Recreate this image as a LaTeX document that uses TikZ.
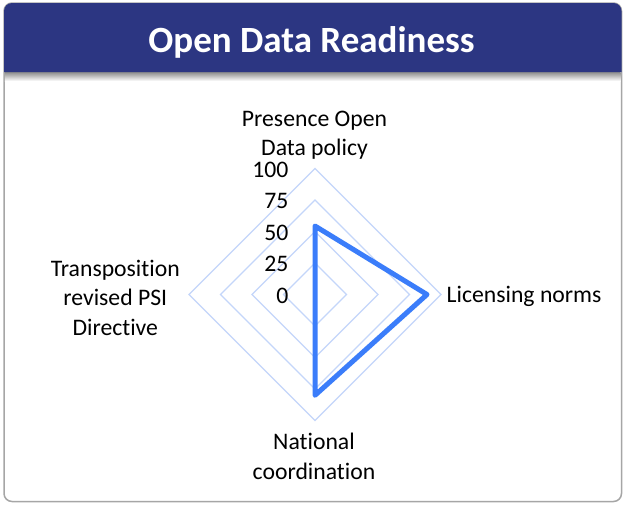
\documentclass[tikz,border=0pt]{standalone}
\usepackage{fontspec}
\setmainfont{Carlito}[Ligatures=NoCommon]
\usetikzlibrary{positioning}
\definecolor{titleblue}{RGB}{44,54,130}
\definecolor{datablue}{RGB}{59,125,250}
\definecolor{gridblue}{RGB}{196,214,250}
\definecolor{framegray}{RGB}{166,166,166}

\begin{document}
\begin{tikzpicture}[x=1pt,y=1pt,
    ring/.style={draw=gridblue,line width=1.2pt},
    series/.style={draw=datablue,line width=5pt,line join=round},
    axislabel/.style={font=\fontsize{23.7}{29.5}\selectfont,align=center,inner sep=0pt},
    ticklabel/.style={font=\fontsize{23.7}{29.5}\selectfont,anchor=east,inner sep=0pt}]
    \useasboundingbox (0,0) rectangle (624,-504);
    % frame and title bar
    \draw[framegray,line width=1.5pt,rounded corners=8pt,fill=white] (4,-3) rectangle (621.5,-501.5);
    \shade[top color=black!45,bottom color=white] (4.8,-72) rectangle (620.7,-81);
    \fill[titleblue] (4,-72) [rounded corners=8pt] -- (4,-3) -- (621.5,-3) [sharp corners] -- (621.5,-72) -- cycle;
    \node[font=\bfseries\fontsize{37}{44}\selectfont,text=white,anchor=base] (title) at (311.5,-52.7) {Open Data Readiness};
    % grid
    \coordinate (ctr) at (315,-294.5);
    \foreach \r in {31.5,63,94.5,126}
        \draw[ring,shift={(ctr)}] (0,\r) -- (\r,0) -- (0,-\r) -- (-\r,0) -- cycle;
    \foreach \v [count=\i] in {0,25,50,75,100}
        \node[ticklabel] (tick\i) at (288.5,{-295.7+1.26*\v}) {\v};
    % series
    \coordinate (pres) at (315,-226);
    \coordinate (lic) at (427,-294.5);
    \coordinate (nat) at (315,-395.3);
    \draw[series] (pres) -- (lic) -- (nat) -- (ctr) -- cycle;
    % axis labels (base = last line)
    \node[axislabel,anchor=base] (pres-label) at (314.5,-155.7) {Presence Open\\Data policy};
    \node[axislabel,anchor=base west] (lic-label) at (446.5,-302.3) {Licensing norms};
    \node[axislabel,anchor=base] (nat-label) at (314,-479) {National\\coordination};
    \node[axislabel,anchor=base] (trans-label) at (115.3,-335) {Transposition\\revised PSI\\Directive};
\end{tikzpicture}
\end{document}
